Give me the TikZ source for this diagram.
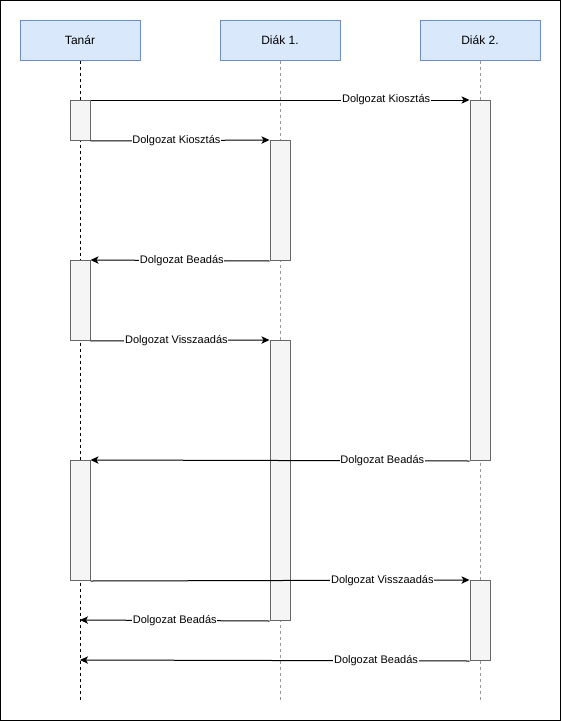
\documentclass[tikz,border=0pt]{standalone}
\usepackage{fontspec}
\setmainfont{Liberation Sans}
\usetikzlibrary{arrows.meta}
\definecolor{hdrfill}{HTML}{DAE8FC}
\definecolor{hdrdraw}{HTML}{6C8EBF}
\definecolor{actfill}{HTML}{F5F5F5}
\definecolor{actdraw}{HTML}{666666}
\definecolor{lifegray}{HTML}{999999}
\tikzset{
  hdr/.style={draw=hdrdraw, fill=hdrfill, line width=0.75pt, minimum width=90pt, minimum height=30pt, inner sep=0pt, font=\fontsize{9pt}{11pt}\selectfont},
  act/.style={draw=actdraw, fill=actfill, line width=0.75pt, minimum width=15pt, inner sep=0pt, anchor=north},
  life/.style={dashed, line width=0.75pt, dash pattern=on 2.25pt off 2.25pt},
  msg/.style={line width=0.75pt, -{Stealth[length=6pt,width=5.5pt,inset=1.5pt]}},
  lbl/.style={fill=white, inner sep=0.6pt, font=\fontsize{8.25pt}{10pt}\selectfont}
}
\begin{document}
\begin{tikzpicture}[x=0.75pt,y=-0.75pt]
\useasboundingbox (0,0) rectangle (561,721);
\draw[line width=0.75pt] (0.5,0.5) rectangle (560.5,720.5);
% headers
\node[hdr] (ht) at (80,40) {Tanár};
\node[hdr] (hd1) at (280,40) {Diák 1.};
\node[hdr] (hd2) at (480,40) {Diák 2.};
% lifeline ends
\coordinate (et) at (80,700);
\coordinate (ed1) at (280,700);
\coordinate (ed2) at (480,700);
\draw[life, black] (ht.south) -- (et);
\draw[life, lifegray] (hd1.south) -- (ed1);
\draw[life, lifegray] (hd2.south) -- (ed2);
% activations
\node[act, minimum height=30pt] (t1) at (80,100) {};
\node[act, minimum height=60pt] (t2) at (80,260) {};
\node[act, minimum height=90pt] (t3) at (80,460) {};
\node[act, minimum height=90pt] (d1a) at (280,140) {};
\node[act, minimum height=210pt] (d1b) at (280,340) {};
\node[act, minimum height=270pt] (d2a) at (480,100) {};
\node[act, minimum height=60pt] (d2b) at (480,580) {};
\coordinate (r7) at (80,620);
\coordinate (r8) at (80,660);
% messages
\draw[msg] (t1.north east) -- node[lbl, pos=0.78] {Dolgozat Kiosztás} (d2a.north west);
\draw[msg] (t1.south east) -- node[lbl, pos=0.48] {Dolgozat Kiosztás} (d1a.north west);
\draw[msg] (d1a.south west) -- node[lbl, pos=0.49] {Dolgozat Beadás} (t2.north east);
\draw[msg] (t2.south east) -- node[lbl, pos=0.48] {Dolgozat Visszaadás} (d1b.north west);
\draw[msg] (d2a.south west) -- node[lbl, pos=0.23] {Dolgozat Beadás} (t3.north east);
\draw[msg] (t3.south east) -- node[lbl, pos=0.77] {Dolgozat Visszaadás} (d2b.north west);
\draw[msg] (d1b.south west) -- node[lbl, pos=0.5] {Dolgozat Beadás} (r7);
\draw[msg] (d2b.south west) -- node[lbl, pos=0.24] {Dolgozat Beadás} (r8);
\end{tikzpicture}
\end{document}
